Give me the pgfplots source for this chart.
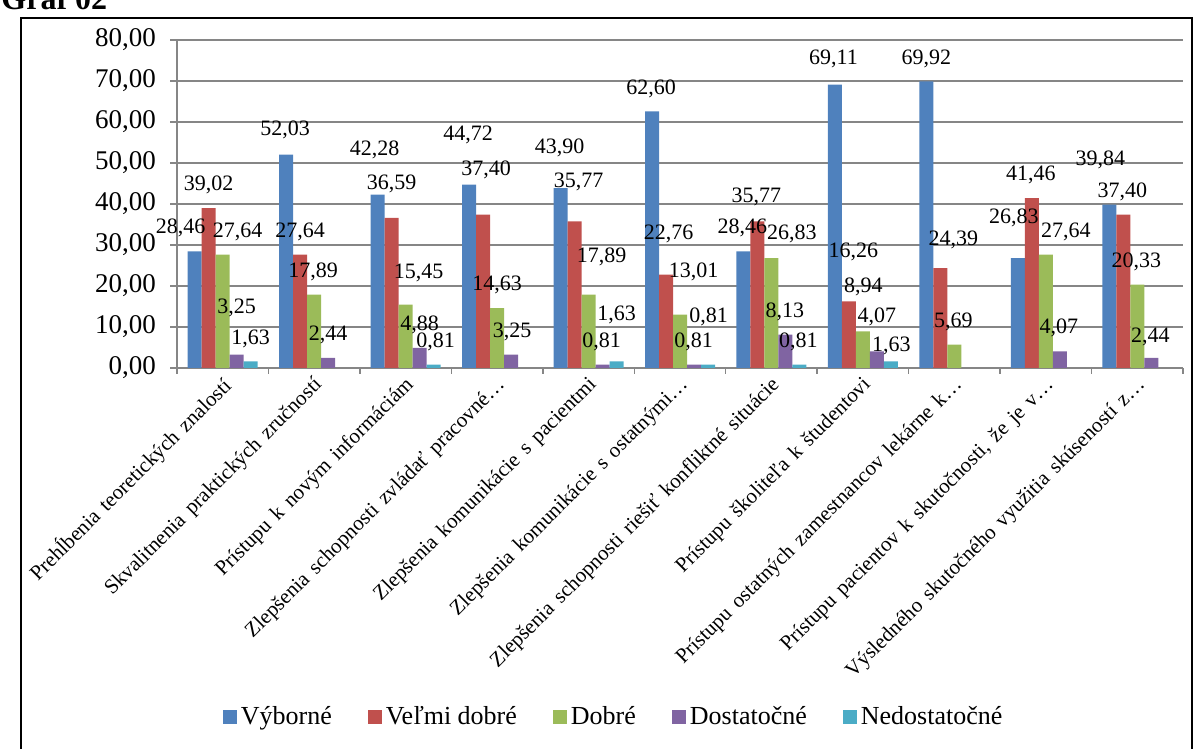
\documentclass[border=0pt]{standalone}
\usepackage{fontspec}
\setmainfont{Liberation Serif}
\usepackage{pgfplots}
\usepackage{pgfplotstable}
\pgfplotsset{compat=1.18}
\definecolor{cB}{HTML}{4F81BD}
\definecolor{cR}{HTML}{C0504D}
\definecolor{cG}{HTML}{9BBB59}
\definecolor{cP}{HTML}{8064A2}
\definecolor{cC}{HTML}{4BACC6}
\definecolor{gridgray}{RGB}{134,134,134}
\newcommand{\widespaces}{\spaceskip=4pt\relax}

% x = category, y = value, dx = label x offset (px), ly = label height (value units)
\pgfplotstableread{
x y dx ly
0 28.46 -14 34.1
1 52.03 -1 58.0
2 42.28 -3 53.2
3 44.72 -1 56.8
4 43.90 -1 53.6
5 62.60 -1 68.2
6 28.46 -1 34.1
7 69.11 -1.5 75.5
8 69.92 0 75.5
9 26.83 -4 36.5
10 39.84 -9 50.7
}\dataB
\pgfplotstableread{
x y dx ly
0 39.02 0 44.6
1 27.64 0 33.3
2 36.59 0 45.0
3 37.40 3 48.3
4 35.77 4 45.4
5 22.76 2.5 32.8
6 35.77 -1 41.8
7 16.26 4.5 28.4
8 24.39 13 31.2
9 41.46 -1 47.1
10 37.40 -1 43.0
}\dataR
\pgfplotstableread{
x y dx ly
0 27.64 15 33.3
1 17.89 -1 23.5
2 15.45 13 23.1
3 14.63 0 20.2
4 17.89 13 27.2
5 13.01 13.5 23.5
6 26.83 20.5 32.8
7 8.94 0.5 19.8
8 5.69 -1 11.3
9 27.64 20 33.3
10 20.33 -1 25.9
}\dataG
\pgfplotstableread{
x y dx ly
0 3.25 0 14.6
1 2.44 0 8.0
2 4.88 0 10.5
3 3.25 1 8.9
4 0.81 -1 6.4
5 0.81 -0.5 6.4
6 8.13 -0.5 13.7
7 4.07 0 12.5
9 4.07 -1 9.7
10 2.44 -1 7.6
}\dataP
\pgfplotstableread{
x y dx ly
0 1.63 0 7.2
2 0.81 2 6.4
4 1.63 0 12.9
5 0.81 0.5 12.5
6 0.81 -1 6.4
7 1.63 0.5 5.4
}\dataC

\pgfplotsset{
  sqleg/.style={legend image code/.code={\fill[##1] (0pt,-3.5pt) rectangle (7pt,3.5pt);}},
}

\begin{document}
\begin{tikzpicture}
\useasboundingbox (0,0) rectangle (600pt,374.5pt);
\draw[line width=1pt] (10.5pt,-10pt) rectangle (596pt,365.5pt);
\node[anchor=base west, inner sep=0pt, font=\fontsize{16}{18}\selectfont\bfseries] at (0.5pt,369.5pt) {Graf 02};
\begin{axis}[
  at={(88.5pt,190.5pt)}, anchor=south west,
  scale only axis, width=503pt, height=164pt,
  xmin=-0.5, xmax=10.5, ymin=0, ymax=80,
  enlargelimits=false,
  axis x line=bottom, axis y line=left,
  axis line style={-, draw=gridgray, line width=0.75pt},
  ytick={0,10,...,80},
  ymajorgrids, grid style={draw=gridgray, line width=0.75pt},
  tick align=outside,
  major tick length=3.5pt, minor tick length=3pt,
  major x tick style={draw=none},
  minor x tick style={draw=gridgray, line width=0.75pt},
  y tick style={draw=gridgray, line width=0.75pt},
  xtick={0,...,10},
  minor xtick={-0.5,0.5,...,10.5},
  xticklabels={
    {\widespaces Prehĺbenia teoretických znalostí},
    {\widespaces Skvalitnenia praktických zručností},
    {\widespaces Prístupu k novým informáciám},
    {\widespaces Zlepšenia schopnosti zvládať pracovné…},
    {\widespaces Zlepšenia komunikácie s pacientmi},
    {\widespaces Zlepšenia komunikácie s ostatnými…},
    {\widespaces Zlepšenia schopnosti riešiť konfliktné situácie},
    {\widespaces Prístupu školiteľa k študentovi},
    {\widespaces Prístupu ostatných zamestnancov lekárne k…},
    {\widespaces Prístupu pacientov k skutočnosti, že je v…},
    {\widespaces Výsledného skutočného využitia skúseností z…}
  },
  x tick label style={font=\fontsize{10.5}{12}\selectfont, xshift=3.25pt, yshift=-2.75pt, rotate=45, anchor=east, inner sep=1pt},
  y tick label style={font=\fontsize{13.5}{16}\selectfont, xshift=-3.5pt,
    /pgf/number format/.cd, fixed, fixed zerofill, precision=2, use comma, assume math mode=true},
  ybar=0pt, bar width=7pt,
  point meta=y,
  nodes near coords={\pgfmathprintnumber[fixed,fixed zerofill,precision=2,use comma,assume math mode=true]{\pgfplotspointmeta}},
  visualization depends on={\thisrow{dx} \as \ldx},
  visualization depends on={\thisrow{ly}-\thisrow{y} \as \ldy},
  every node near coord/.append style={font=\fontsize{11}{12}\selectfont, anchor=center, inner sep=0pt,
    xshift=\ldx*0.5pt, yshift=\ldy*2.05pt},
  legend columns=5,
  legend style={at={(0.435,-1.064)}, anchor=center, draw=none, fill=none,
    font=\fontsize{13}{15}\selectfont,
    /tikz/every even column/.append style={column sep=16pt}},
]
\addplot[fill=cB, draw=none, sqleg] table[x=x, y=y] {\dataB};
\addplot[fill=cR, draw=none, sqleg] table[x=x, y=y] {\dataR};
\addplot[fill=cG, draw=none, sqleg] table[x=x, y=y] {\dataG};
\addplot[fill=cP, draw=none, sqleg] table[x=x, y=y] {\dataP};
\addplot[fill=cC, draw=none, sqleg] table[x=x, y=y] {\dataC};
\legend{Výborné, Veľmi dobré, Dobré, Dostatočné, Nedostatočné}
\end{axis}
\end{tikzpicture}
\end{document}
